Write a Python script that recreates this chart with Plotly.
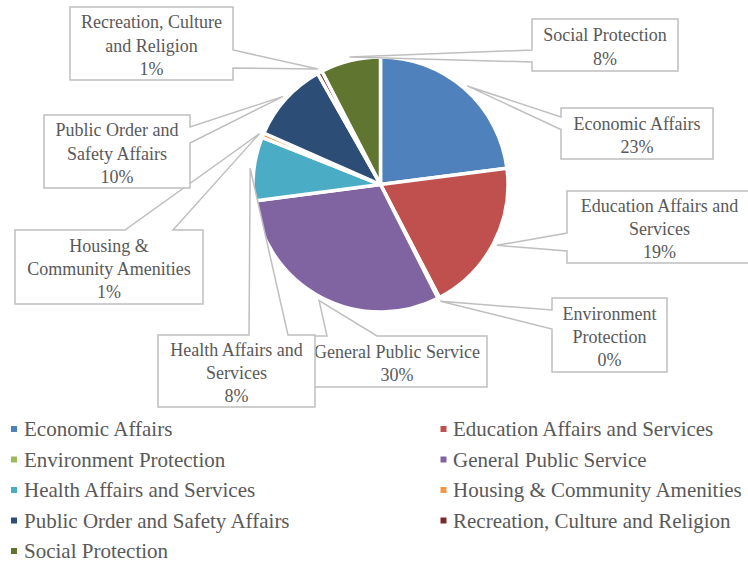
import math
import plotly.graph_objects as go

# ---------------- data ----------------
categories = [
    "Economic Affairs",
    "Education Affairs and Services",
    "Environment Protection",
    "General Public Service",
    "Health Affairs and Services",
    "Housing & Community Amenities",
    "Public Order and Safety Affairs",
    "Recreation, Culture and Religion",
    "Social Protection",
]
shares = [23.0, 19.4, 0.2, 30.4, 8.1, 0.6, 10.2, 0.6, 7.6]
colors = ["#4F81BD", "#C0504D", "#9BBB59", "#8064A2", "#4BACC6",
          "#F79646", "#2C4D75", "#772C2A", "#5F7530"]
callout_names = [
    "Economic Affairs",
    "Education Affairs and<br>Services",
    "Environment<br>Protection",
    "General Public Service",
    "Health Affairs and<br>Services",
    "Housing &<br>Community Amenities",
    "Public Order and<br>Safety Affairs",
    "Recreation, Culture<br>and Religion",
    "Social Protection",
]

# ---------------- layout constants (pixels) ----------------
W, H = 748, 562
CX, CY, R = 380.5, 184.5, 127.5
FONT = "Liberation Serif"
TXT = "#595959"
BORDER = "#BFBFBF"

# callout boxes: x0, y0, x1, y1, wedge side, wedge base start, wedge base end
boxes = [
    (561, 108, 713, 159, "left", 117, 129.5),
    (567, 191, 752, 263, "left", 233, 251),
    (552, 298, 667, 372, "left", 310, 329),
    (307, 336, 487, 387, "top", 327, 377),
    (158, 335, 315, 407, "top", 249, 288),
    (15, 230, 203, 304, "top", 125, 173),
    (44, 115, 190, 188, "right", 127, 143),
    (70, 7, 233, 80, "right", 50, 68),
    (532, 19, 678, 71, "left", 50, 62),
]

# legend grid
legend_cols_text = [22, 450.5]
legend_cols_box = [14, 443.5]
legend_rows = [429, 459.5, 490, 520.5, 551]


def px(x, y):
    return x / W, 1 - y / H


fig = go.Figure()
fig.add_trace(go.Pie(
    labels=categories,
    values=shares,
    sort=False,
    direction="clockwise",
    rotation=0,
    marker=dict(colors=colors, line=dict(color="white", width=3.5)),
    textinfo="none",
    hoverinfo="label+percent",
    showlegend=False,
    domain=dict(x=[(CX - R) / W, (CX + R) / W],
                y=[1 - (CY + R) / H, 1 - (CY - R) / H]),
))

total = sum(shares)
shapes = []
cum = 0.0
tips = []
for v in shares:
    a = math.radians(360 * (cum + v / 2) / total)
    cum += v
    rt = R * 1.03
    tips.append((CX + rt * math.sin(a), CY - rt * math.cos(a)))

for i, (x0, y0, x1, y1, side, a, b) in enumerate(boxes):
    tx, ty = tips[i]
    pts = [(x0, y0)]
    if side == "top":
        pts += [(a, y0), (tx, ty), (b, y0)]
    pts.append((x1, y0))
    if side == "right":
        pts += [(x1, a), (tx, ty), (x1, b)]
    pts.append((x1, y1))
    pts.append((x0, y1))
    if side == "left":
        pts += [(x0, b), (tx, ty), (x0, a)]
    path = "M " + " L ".join("%.5f,%.5f" % px(x, y) for x, y in pts) + " Z"
    shapes.append(dict(type="path", xref="paper", yref="paper", path=path,
                       fillcolor="white", line=dict(color=BORDER, width=1.5)))
    pct = round(shares[i] / total * 100)
    bx0, by1 = px(x0, y0)
    bx1, by0 = px(x1, y1)
    shapes.append(dict(type="rect", xref="paper", yref="paper",
                       x0=bx0, x1=bx1, y0=by0, y1=by1,
                       fillcolor="rgba(0,0,0,0)", line=dict(width=0),
                       label=dict(text=f"{callout_names[i]}<br>{pct}%",
                                  textposition="middle center",
                                  font=dict(family=FONT, size=18, color=TXT))))

annotations = []
for i, name in enumerate(categories):
    col = i % 2
    row = i // 2
    yc = legend_rows[row]
    xc = legend_cols_box[col]
    sx0, sy1 = px(xc - 3, yc - 3)
    sx1, sy0 = px(xc + 3, yc + 3)
    shapes.append(dict(type="rect", xref="paper", yref="paper",
                       x0=sx0, x1=sx1, y0=sy0, y1=sy1,
                       fillcolor=colors[i], line=dict(width=0)))
    ax, ay = px(legend_cols_text[col], yc)
    annotations.append(dict(x=ax, y=ay, xref="paper", yref="paper",
                            xanchor="left", yanchor="middle", showarrow=False,
                            text=name, font=dict(family=FONT, size=21, color=TXT)))

fig.update_layout(
    width=W, height=H,
    margin=dict(l=0, r=0, t=0, b=0),
    paper_bgcolor="white",
    plot_bgcolor="white",
    shapes=shapes,
    annotations=annotations,
    font=dict(family=FONT, color=TXT),
)

fig.write_html("out.html")
